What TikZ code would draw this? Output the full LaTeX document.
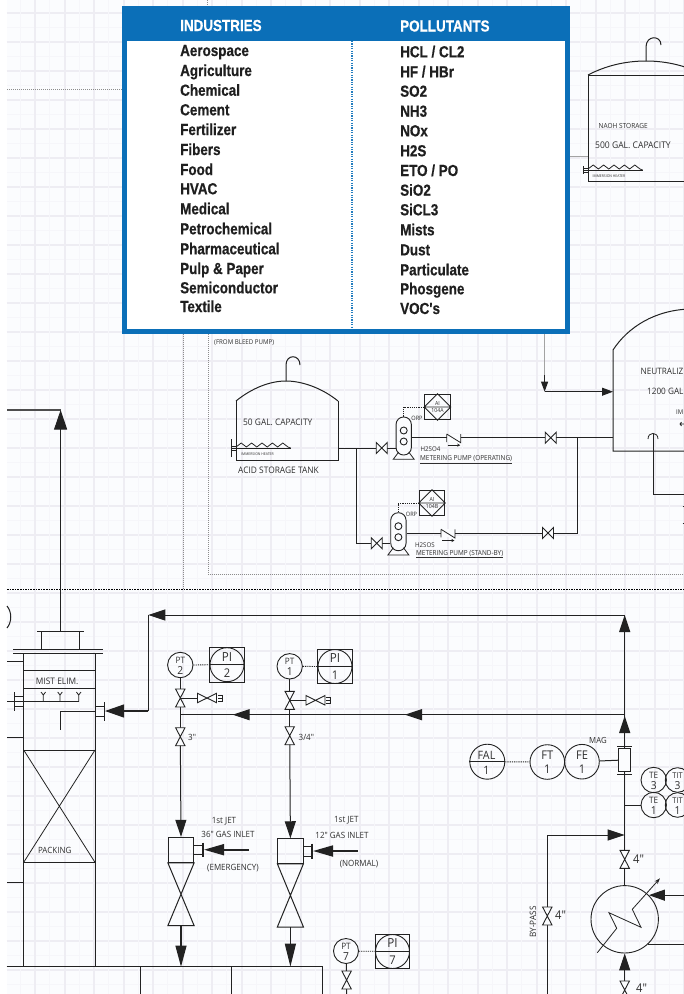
\documentclass[tikz,border=0pt]{standalone}
\usepackage{fontspec}
\usetikzlibrary{arrows.meta,calc}
\newfontfamily\lab[FakeStretch=0.93]{Open Sans}
\newfontfamily\hd[FakeStretch=0.84,FakeBold=0.6]{Liberation Sans}
\newcommand\fs[1]{\fontsize{#1}{#1}\selectfont}
\definecolor{blu}{HTML}{0B6FB8}
\definecolor{ink}{HTML}{222222}
\definecolor{labc}{HTML}{2E2E2E}
\definecolor{bgc}{HTML}{FBFCFE}
\definecolor{gridA}{HTML}{EEEDF3}
\definecolor{gridB}{HTML}{F6F6FA}
\definecolor{dotc}{HTML}{8C8C8C}
\tikzset{
  pipe/.style={draw=ink,line width=1pt},
  thin pipe/.style={draw=ink,line width=0.8pt},
  bigarrow/.style={-{Triangle[length=17pt,width=11pt]}},
  hugearrow/.style={-{Triangle[length=19pt,width=13pt]}},
  smallarrow/.style={-{Triangle[length=10pt,width=7pt]}},
  dotline/.style={draw=ink,line width=0.8pt,dash pattern=on 1.2pt off 1pt},
  greydot/.style={draw=dotc,line width=0.5pt,dash pattern=on 1pt off 1pt},
  instc/.style={circle,draw=ink,line width=0.9pt,inner sep=0pt,minimum size=#1},
  lab/.style={font=\lab,text=labc,inner sep=0pt},
  lw/.style={lab,anchor=west},
  ind/.style={font=\hd\bfseries\fs{16},text=black!88,inner sep=0pt,anchor=base west},
  valve/.style={draw=ink,line width=0.9pt,fill=bgc},
}
\newcommand\vval[1]{\draw[valve] (#1) ++(-4.7,-9) -- ++(9.4,0) -- ++(-9.4,18) -- ++(9.4,0) -- cycle;}
\newcommand\hval[3]{\draw[valve] (#1) ++(-#2,-#3) -- ++(0,2*#3) -- ++(2*#2,-2*#3) -- ++(0,2*#3) -- cycle;}
\newcommand\instr[8]{% name,x,y,diam,top,bot,topsize,botsize
  \node[instc=#4pt] (#1) at (#2,#3) {};
  \node[lab,font=\lab\fs{#7}] (#1-t) at ($(#1)+(0,-#4*0.19)$) {#5};
  \node[lab,font=\lab\fs{#8}] (#1-b) at ($(#1)+(0,#4*0.22)$) {#6};}
\newcommand\pibox[3]{% suffix,x,y
  \node[draw=ink,line width=0.9pt,minimum size=34.5pt,inner sep=0pt] (pib#1) at (#2,#3) {};
  \node[instc=34pt] (pi#1) at (#2,#3) {};
  \draw[thin pipe] (pi#1.west) -- (pi#1.east);
  \node[lab,font=\lab\fs{12.5}] (pi#1-t) at ($(pi#1)+(0,-8)$) {PI};
  \node[lab,font=\lab\fs{12}] (pi#1-b) at ($(pi#1)+(0,8.5)$) {#1};}
\newcommand\aibox[5]{% name,x,y,top,bot
  \node[draw=ink,line width=0.9pt,minimum size=25.5pt,inner sep=0pt] (#1) at (#2,#3) {};
  \draw[thin pipe] (#1.north) -- (#1.east) -- (#1.south) -- (#1.west) -- cycle (#1.west) -- (#1.east);
  \node[lab,font=\lab\fs{5.6}] (#1-t) at ($(#1)+(0,-3.5)$) {#4};
  \node[lab,font=\lab\fs{5.6}] (#1-b) at ($(#1)+(0,3.5)$) {#5};}
\newcommand\pumpdraw[3]{% name,x,y
  \node[draw=ink,line width=0.9pt,fill=bgc,minimum width=15.3pt,minimum height=38pt,rounded corners=7.5pt,inner sep=0pt] (#1) at (#2,#3) {};
  \node[instc=7pt] (#1-a) at ($(#1)+(0,-5.5)$) {};
  \node[instc=7pt] (#1-b) at ($(#1)+(0,5.5)$) {};
  \draw[thin pipe] ($(#1)+(-5,16)$) -- ($(#1)+(-10.5,23.3)$) -- ($(#1)+(10.5,23.3)$) -- ($(#1)+(5,16)$);}
\newcommand\chk[1]{%
  \draw[thin pipe] (#1) ++(-7,-3.7) -- ++(0,8) ++(0,-8) -- ++(14,8.7) -- ++(0,-8.7);
  \draw[draw=ink,line width=0.6pt,-{Stealth[length=3pt,width=3pt]}] (#1) ++(-6,7.5) -- ++(12.5,0);}
\newcommand\heater[4]{% name,wallx,basey,flange half height
  \coordinate (#1) at (#2,#3);
  \draw[thin pipe] (#1) ++(0,-1) -- ++(5.2,-4) -- ++(5.2,4) -- ++(5.2,-4) -- ++(5.2,4) -- ++(5.2,-4) -- ++(5.2,4) -- ++(5.2,-4) -- ++(5.2,4) -- ++(5.2,-4) -- ++(5.2,4) -- ++(2.5,1) -- ++(0,0.8);
  \draw[thin pipe] (#1) ++(-1,0.8) -- ++(56,0);
  \draw[thin pipe,line width=1.1pt] (#1) ++(-4.5,-#4) -- ++(0,2*#4);
  \draw[thin pipe] (#1) ++(-4.5,-2) -- ++(4.5,0) ++(-4.5,2) -- ++(4.5,0) ++(-4.5,2) -- ++(4.5,0);}
\begin{document}
\begin{tikzpicture}[x=1pt,y=-1pt]
\useasboundingbox (0,0) rectangle (684,994);
\clip (0,0) rectangle (684,994);
% ---------- background grid
\fill[bgc] (6.5,0) rectangle (684,994);
\foreach \i in {0,...,33} {
  \draw[gridB,line width=0.8pt] (6.5,{27.5+\i*29}) -- (684,{27.5+\i*29});
  \draw[gridA,line width=1.4pt] (6.5,{13+\i*29}) -- (684,{13+\i*29});
}
\foreach \i in {0,...,22} {
  \draw[gridB,line width=1pt] ({20+\i*29.5},0) -- ({20+\i*29.5},994);
  \draw[gridA,line width=2pt] ({35+\i*29.5},0) -- ({35+\i*29.5},994);
}
% ---------- dotted service lines
\coordinate (dA) at (7,89.7); \coordinate (dB) at (122,89.7);
\coordinate (dC) at (207,0); \coordinate (dD) at (207,6);
\coordinate (dE) at (183,334); \coordinate (dF) at (183,589);
\coordinate (dG) at (208,334); \coordinate (dH) at (208,574.3); \coordinate (dI) at (684,574.3);
\coordinate (dJ) at (7,589.5); \coordinate (dK) at (684,589.5);
\draw[greydot] (dA) -- (dB);
\draw[greydot] (dC) -- (dD);
\draw[greydot] (dE) -- (dF);
\draw[greydot] (dG) -- (dH) -- (dI);
\draw[draw=black,line width=0.9pt,dash pattern=on 1.6pt off 1pt] (dJ) -- (dK);
% ---------- blue table
\node[draw=blu,line width=5pt,fill=white,minimum width=443pt,minimum height=323pt,inner sep=0pt,outer sep=0pt] (tbl) at (346,170) {};
\fill[blu] (122,6) rectangle (570,41);
\coordinate (tdA) at (352,41); \coordinate (tdB) at (352,328);
\draw[draw=blu!90,line width=1.2pt,dash pattern=on 1.2pt off 1.2pt] (tdA) -- (tdB);
\node[font=\hd\bfseries\fs{16},text=white,inner sep=0pt,anchor=base west] (hind) at (180,31) {INDUSTRIES};
\node[font=\hd\bfseries\fs{16},text=white,inner sep=0pt,anchor=base west] (hpol) at (400,31.5) {POLLUTANTS};
\foreach \y/\t [count=\i] in {56/{Aerospace},76/{Agriculture},95.7/{Chemical},115.3/{Cement},135/{Fertilizer},155/{Fibers},175/{Food},194.3/{HVAC},214.3/{Medical},234.3/{Petrochemical},254.3/{Pharmaceutical},274/{Pulp \& Paper},293.3/{Semiconductor},312/{Textile}}
  \node[ind] (ind\i) at (180,\y) {\t};
\foreach \y/\t [count=\i] in {57.3/{HCL / CL2},77.3/{HF / HBr},96.7/{SO2},116.7/{NH3},136.3/{NOx},156.3/{H2S},176/{ETO / PO},195.7/{SiO2},215.3/{SiCL3},235.3/{Mists},255.3/{Dust},275.3/{Particulate},294.3/{Phosgene},314/{VOC's}}
  \node[ind] (pol\i) at (400,\y) {\t};
% ---------- NaOH storage tank
\coordinate (nA) at (588,75); \coordinate (nB) at (588,181); \coordinate (nC) at (700,181); \coordinate (nD) at (700,75);
\coordinate (nP) at (646,61); \coordinate (nS) at (570,156); \coordinate (nW) at (588,156);
\draw[draw=dotc!80,line width=0.7pt] (nS) -- (nW);
\draw[pipe] (nD) -- (nA) -- (nB) -- (nC);
\draw[pipe] (nA) .. controls (605,66) and (625,61) .. (nP) .. controls (667,61) and (687,66) .. (704,75);
\draw[pipe] (nP) -- (646,47) .. controls (646,35) and (661,35) .. (661,45);
\heater{hn}{588}{170}{4}
\node[lw,font=\lab\fs{7}] (tn1) at (598.5,125.5) {NAOH STORAGE};
\node[lw,font=\lab\fs{9.2}] (tn2) at (595,145) {500 GAL. CAPACITY};
\node[lw,font=\lab\fs{3.7}] (tn3) at (592.5,175.7) {IMMERSION HEATER};
% ---------- Neutralizer tank
\coordinate (tA) at (613,350); \coordinate (tB) at (613,451); \coordinate (tC) at (690,451);
\draw[pipe] (690,309) .. controls (655,310) and (628,327) .. (tA) -- (tB) -- (tC);
\coordinate (gS) at (653,494); \coordinate (gT) at (653,434); \coordinate (gR) at (690,494);
\draw[pipe] (gR) -- (gS) -- (gT);
\draw[thin pipe] (648,439) .. controls (648,431.5) and (658,431.5) .. (658,439);
\draw[thin pipe] (680,424) -- (684,424) (681.5,422) -- (680,424) -- (681.5,426);
\draw[thin pipe] (682.5,506) -- (684,506) (682.5,523) -- (684,523);
\node[lw,font=\lab\fs{8.8}] (tz1) at (640.5,371) {NEUTRALIZ};
\node[lw,font=\lab\fs{8.8}] (tz2) at (647,391) {1200 GAL};
\node[lw,font=\lab\fs{6.5}] (tz3) at (676,412) {IM};
% caustic feed
\coordinate (cA) at (544.6,334); \coordinate (cB) at (544.6,391.7); \coordinate (cC) at (613,391.7);
\draw[draw=dotc!80,line width=0.8pt] (cA) -- (544.6,381);
\draw[pipe,smallarrow] (544.6,375) -- (cB);
\draw[pipe,-{Triangle[length=11pt,width=8pt]}] (cB) -- (cC);
% ---------- Acid tank
\coordinate (aA) at (236,401); \coordinate (aB) at (236,460); \coordinate (aC) at (338,460); \coordinate (aD) at (338,401);
\coordinate (aP) at (286,381);
\draw[pipe] (aA) -- (aB) -- (aC) -- (aD);
\draw[pipe] (aA) .. controls (252,388) and (270,381) .. (aP) .. controls (302,381) and (322,388) .. (aD);
\draw[pipe] (aP) -- (286,365) .. controls (286,354) and (300,354) .. (300,365);
\heater{ha}{236}{448}{9}
\node[lw,font=\lab\fs{3.7}] (ta1) at (241,454.5) {IMMERSION HEATER};
\node[lw,font=\lab\fs{9}] (ta2) at (243,422.5) {50 GAL. CAPACITY};
\node[lw,font=\lab\fs{9}] (ta3) at (238,470.5) {ACID STORAGE TANK};
\node[lw,font=\lab\fs{6.6}] (ta4) at (214,342.5) {(FROM BLEED PUMP)};
% pumps and analysers
\pumpdraw{p1}{403.7}{436}
\pumpdraw{p2}{398.4}{531.7}
\aibox{ai1}{437.5}{407}{AI}{104A}
\aibox{ai2}{432}{503}{AI}{104B}
\draw[dotline] (p1.north) |- (ai1.west);
\draw[dotline] (p2.north) |- (ai2.west);
\node[lab,font=\lab\fs{6}] (o1) at (417,418) {ORP};
\node[lab,font=\lab\fs{6}] (o2) at (411.5,514) {ORP};
% acid piping
\coordinate (aOut) at (338,448); \coordinate (v1) at (381.7,448);
\coordinate (br) at (356.7,448); \coordinate (brB) at (356.7,543.3); \coordinate (v2) at (376.7,543.3);
\coordinate (ck1) at (453.7,437.7); \coordinate (ck2) at (448,533);
\coordinate (v3) at (550.7,437.7); \coordinate (v4) at (548,533);
\coordinate (rs) at (577.3,437.7); \coordinate (rsB) at (577.3,533); \coordinate (tIn) at (613,437.7);
\draw[pipe] (aOut) -- (p1.west |- aOut);
\draw[pipe] (br) -- (brB) -- (p2.west |- brB);
\draw[pipe] (p1.east |- ck1) -- (tIn);
\draw[pipe] (p2.east |- ck2) -- (rsB) -- (rs);
\hval{v1}{5.5}{5.5} \hval{v2}{5.5}{5.5} \hval{v3}{5.5}{5.5} \hval{v4}{5.5}{5.5}
\fill[bgc] (447,434) rectangle (460.5,442);
\fill[bgc] (441.3,529) rectangle (454.7,537);
\chk{ck1} \chk{ck2}
\node[lw,font=\lab\fs{6.6}] (h1) at (420.5,449) {H2SO4};
\node[lw,font=\lab\fs{6.9}] (h2) at (420,459.5) {\underline{METERING PUMP (OPERATING)}};
\node[lw,font=\lab\fs{6.6}] (h3) at (415,544.8) {H2SOS};
\node[lw,font=\lab\fs{6.9}] (h4) at (416,554.2) {\underline{METERING PUMP (STAND-BY)}};
% ---------- top-left vent
\coordinate (vA) at (7,410); \coordinate (vB) at (60.6,410); \coordinate (vC) at (60.6,631);
\draw[draw=ink!80,line width=1.1pt] (vA) -- (vB);
\draw[pipe,-{Triangle[length=19.5pt,width=13pt]}] (vC) -- (vB);
\draw[pipe] (7,606) .. controls (12,612) and (12,622) .. (7,628);
% ---------- Scrubber column
\coordinate (cTL) at (23.7,654); \coordinate (cBL) at (23.7,966); \coordinate (cTR) at (95,654); \coordinate (cBR) at (95,966);
\draw[pipe] (cTL) -- (cBL) (cTR) -- (cBR);
\draw[pipe] (13,649.3) -- (103,649.3) (13,653.7) -- (103,653.7);
\draw[pipe] (41.7,631) -- (41.7,649.3) (79,631) -- (79,649.3) (37,631) -- (83.7,631);
\draw[pipe] (23.7,670) -- (95,670) (23.7,688.7) -- (95,688.7);
\draw[pipe] (23.7,750) -- (95,750) (23.7,862.3) -- (95,862.3);
\draw[thin pipe] (23.7,750) -- (95,862.3) (95,750) -- (23.7,862.3);
\node[lab,font=\lab\fs{9}] (mist) at (57.2,681) {MIST ELIM.};
\node[lab,font=\lab\fs{8.6}] (pack) at (54.7,850.5) {PACKING};
\draw[pipe] (7,661.7) -- (23.7,661.7) (7,737.7) -- (23.7,737.7) (7,882.7) -- (23.7,882.7);
% spray header
\draw[pipe] (7,701.5) -- (78.7,701.5);
\draw[pipe,line width=1.1pt] (14.7,692) -- (14.7,711);
\draw[thin pipe] (14.7,696.5) -- (23.7,696.5) (14.7,706) -- (23.7,706);
\foreach \x in {43.3,60,78.7} {
  \draw[thin pipe] (\x,701.5) -- (\x,695) (\x-2.3,692) -- (\x,695) -- (\x+2.3,692);
}
% recycle inlet
\coordinate (rA) at (105,711); \coordinate (rB) at (148.3,711); \coordinate (rC) at (148.3,615);
\coordinate (rD) at (624.7,615); \coordinate (rE) at (95,711); \coordinate (rF) at (60.5,711); \coordinate (rG) at (60.5,729.5);
\draw[pipe,line width=1.1pt,hugearrow] (rB) -- (rA);
\draw[pipe] (rB) -- (rC);
\draw[pipe,bigarrow] (rD) -- (rC);
\draw[pipe] (rE) -- (rF) -- (rG);
\draw[thin pipe] (95,706) -- (104.7,706) (95,716.5) -- (104.7,716.5);
\draw[pipe,line width=1.2pt] (104.7,702) -- (104.7,721);
% ---------- Bottom tank
\coordinate (bA) at (6.5,966.7); \coordinate (bB) at (322.7,966.7);
\draw[pipe] (bA) -- (bB) -- (322.7,994);
\draw[pipe] (140.7,966.7) -- (140.7,994) (231.7,966.7) -- (231.7,994);
% ---------- Jets
\instr{pt2}{180.3}{665}{25.4}{PT}{2}{8.8}{11}
\instr{pt1}{289.7}{666.3}{25.4}{PT}{1}{8.8}{11}
\instr{pt7}{346}{951}{25}{PT}{7}{8.8}{11}
\pibox{2}{227}{664.7}
\pibox{1}{335}{666.5}
\pibox{7}{392.5}{951.5}
\draw[dotline] (pt2) -- (pi2);
\draw[dotline] (pt1) -- (pi1);
\draw[dotline] (pt7) -- (pi7);
% jet 2
\coordinate (j2v1) at (180.3,698); \coordinate (j2v2) at (180.3,736.7); \coordinate (j2in) at (180.7,837.3);
\coordinate (j2t) at (207,698);
\node[draw=ink,line width=0.9pt,minimum width=25.4pt,minimum height=25pt,inner sep=0pt] (j2box) at (181,849.8) {};
\coordinate (j2o) at (181,925.7); \coordinate (j2a) at (181,966.7);
\coordinate (j2g) at (204,849.7); \coordinate (j2h) at (249,849.7);
\draw[pipe] (pt2) -- (j2v1) -- (j2v2);
\draw[pipe,bigarrow] (j2v2) -- (j2box.north);
\draw[thin pipe] (j2v1) -- (j2t);
\draw[pipe] (j2box.south west) -- (j2o -| j2box.east) -- (j2o -| j2box.west) -- (j2box.south east) -- cycle;
\draw[pipe,line width=1.1pt,-{Triangle[length=21pt,width=11pt]}] (j2o) -- (j2a);
\draw[thin pipe] (j2box.east |- 0,845) -- (203,845) (j2box.east |- 0,854.7) -- (203,854.7);
\draw[pipe,line width=1.2pt] (203,842.5) -- (203,857);
\draw[draw=ink,line width=1.8pt,-{Triangle[length=20pt,width=11pt]}] (j2h) -- (j2g);
\vval{j2v1} \vval{j2v2}
\hval{j2t}{9.5}{4.7}
\draw[thin pipe] (218,695) -- (222.5,695) -- (222.5,701) -- (218,701) (218,698) -- (222.5,698);
% jet 1
\coordinate (j1v1) at (289.7,700.3); \coordinate (j1v2) at (289.7,735.7); \coordinate (j1in) at (290,838);
\coordinate (j1t) at (315.5,700.3);
\node[draw=ink,line width=0.9pt,minimum width=25.2pt,minimum height=24.6pt,inner sep=0pt] (j1box) at (290.4,851) {};
\coordinate (j1o) at (290.4,927); \coordinate (j1a) at (290.4,966.7);
\coordinate (j1g) at (313,851); \coordinate (j1h) at (358,851);
\draw[pipe] (pt1) -- (j1v1) -- (j1v2);
\draw[pipe,bigarrow] (j1v2) -- (j1box.north);
\draw[thin pipe] (j1v1) -- (j1t);
\draw[pipe] (j1box.south west) -- (j1o -| j1box.east) -- (j1o -| j1box.west) -- (j1box.south east) -- cycle;
\draw[pipe,line width=1.1pt,-{Triangle[length=23pt,width=11pt]}] (j1o) -- (j1a);
\draw[thin pipe] (j1box.east |- 0,846) -- (312,846) (j1box.east |- 0,856) -- (312,856);
\draw[pipe,line width=1.2pt] (312,843.5) -- (312,858.5);
\draw[draw=ink,line width=1.8pt,-{Triangle[length=20pt,width=11pt]}] (j1h) -- (j1g);
\vval{j1v1} \vval{j1v2}
\hval{j1t}{9.5}{4.7}
\draw[thin pipe] (326,697.3) -- (330.5,697.3) -- (330.5,703.3) -- (326,703.3) (326,700.3) -- (330.5,700.3);
% pt7 valve
\coordinate (j7v) at (346.6,980); \coordinate (j7b) at (346.6,994);
\draw[pipe] (pt7) -- (j7v) -- (j7b);
\vval{j7v}
% jet labels
\node[lab,font=\lab\fs{8.6}] (jl1) at (224,821) {1st JET};
\node[lab,font=\lab\fs{8.6}] (jl2) at (228,834) {36" GAS INLET};
\node[lab,font=\lab\fs{8.6}] (jl3) at (233,867.7) {(EMERGENCY)};
\node[lab,font=\lab\fs{8.6}] (jl4) at (346.3,820) {1st JET};
\node[lab,font=\lab\fs{8.6}] (jl5) at (342,835) {12" GAS INLET};
\node[lab,font=\lab\fs{8.6}] (jl6) at (359,863.7) {(NORMAL)};
\node[lw,font=\lab\fs{8.6}] (jl7) at (188,737.5) {3"};
\node[lw,font=\lab\fs{8.6}] (jl8) at (298.5,737) {3/4"};
% ---------- header and main line
\coordinate (hE) at (624.7,714.7); \coordinate (hM) at (405,714.7); \coordinate (hW) at (180.3,714.7); \coordinate (hL) at (232.7,714.7);
\draw[pipe] (hE) -- (hW);
\draw[pipe,bigarrow] (hE) -- (hM);
\draw[pipe,bigarrow] (hM) -- (hL);
\node[instc=67.4pt] (hx) at (624.7,919.3) {};
\coordinate (mag) at (624.7,760); \coordinate (v5) at (624.7,859.3);
\coordinate (mA) at (624.7,716); \coordinate (mT) at (624.7,805);
\draw[pipe] (hx.north) -- (rD);
\draw[pipe,bigarrow] (624.7,760) -- (mA);
\draw[pipe,bigarrow] (624.7,660) -- (rD);
\node[draw=ink,line width=0.9pt,fill=bgc,minimum width=12pt,minimum height=23pt,inner sep=0pt] (magb) at (624.7,760.2) {};
\draw[pipe] (617,746.5) -- (632,746.5) (617,774.5) -- (632,774.5);
\node[lab,font=\lab\fs{8.4}] (magl) at (598,740) {MAG};
\instr{fe}{582}{761.7}{34.6}{FE}{1}{12}{12}
\instr{ft}{547.3}{762}{34.6}{FT}{1}{12}{12}
\node[instc=35pt] (fal) at (487.3,761.7) {};
\draw[thin pipe] (fal.west) -- (fal.east);
\node[lab,font=\lab\fs{11.5}] (fal-t) at (486.5,755) {FAL};
\node[lab,font=\lab\fs{11.5}] (fal-b) at (486.5,770.5) {1};
\draw[dotline,line width=1.1pt] (fal) -- (ft);
\draw[pipe] (fe) -- (magb.west);
\instr{te3}{653.7}{780}{25.4}{TE}{3}{8.8}{11}
\instr{tit3}{677.6}{780}{24.6}{TIT}{3}{8}{11}
\instr{te1}{653.7}{805}{25.4}{TE}{1}{8.8}{11}
\instr{tit1}{677.6}{805}{24.6}{TIT}{1}{8}{11}
\draw[pipe] (mT) -- (te1.west);
% bypass
\coordinate (bpA) at (547.3,994); \coordinate (bpB) at (547.3,835); \coordinate (bpC) at (624.7,835); \coordinate (v6) at (547.3,916);
\draw[pipe] (bpA) -- (bpB);
\draw[pipe,bigarrow] (bpB) -- (bpC);
\vval{v6} \vval{v5}
\node[lw,font=\lab\fs{12}] (q1) at (555,915) {4"};
\node[lw,font=\lab\fs{12}] (q2) at (633,859) {4"};
\node[lab,font=\lab\fs{8.8},rotate=90] (byp) at (533,922) {BY-PASS};
% exchanger
\coordinate (redge) at (690,0);
\draw[pipe,line width=1.1pt,-{Triangle[length=16pt,width=11pt]}] (hx.45 -| redge) -- (hx.45);
\draw[pipe] (hx.-48) -- (hx.-48 -| redge);
\draw[thin pipe,-{Stealth[length=6pt,width=4pt]}] (597.3,952.7) -- (616.7,928.3) -- (609,912.7) -- (641,927.3) -- (632.3,909.3) -- (660,878.3);
\coordinate (hBot) at (624.7,1000); \coordinate (v7) at (624.7,990);
\draw[pipe,-{Triangle[length=17pt,width=11pt]}] (hBot) -- (hx.south);
\vval{v7}
\node[lw,font=\lab\fs{12}] (q3) at (636,988) {4"};
\end{tikzpicture}
\end{document}
